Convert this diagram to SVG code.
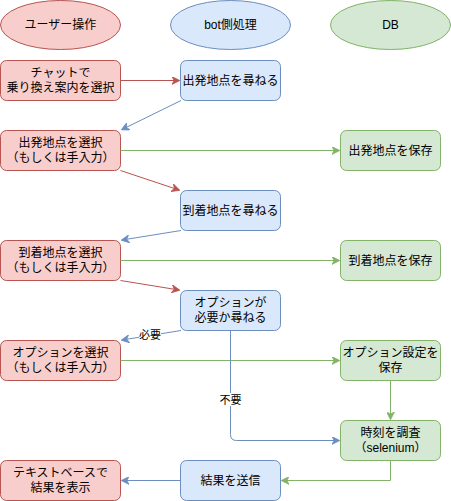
<svg xmlns="http://www.w3.org/2000/svg" width="451" height="501" viewBox="0 0 451 501">
<style>
text{font-family:"Liberation Sans","Noto Sans CJK JP",sans-serif;font-size:12px;fill:#000;text-anchor:middle}
.r{fill:#f8cecc;stroke:#b85450}
.b{fill:#dae8fc;stroke:#6c8ebf}
.g{fill:#d5e8d4;stroke:#82b366}
.lr{stroke:#b85450;fill:none}
.lb{stroke:#6c8ebf;fill:none}
.lg{stroke:#82b366;fill:none}
.lbl{font-size:11px}
</style>
<defs>
<marker id="ar" viewBox="0 0 10 10" refX="9" refY="5" markerWidth="8" markerHeight="8" markerUnits="userSpaceOnUse" orient="auto"><path d="M0,0 L10,5 L0,10 L3,5 Z" fill="#b85450" stroke="#b85450"/></marker>
<marker id="ab" viewBox="0 0 10 10" refX="9" refY="5" markerWidth="8" markerHeight="8" markerUnits="userSpaceOnUse" orient="auto"><path d="M0,0 L10,5 L0,10 L3,5 Z" fill="#6c8ebf" stroke="#6c8ebf"/></marker>
<marker id="ag" viewBox="0 0 10 10" refX="9" refY="5" markerWidth="8" markerHeight="8" markerUnits="userSpaceOnUse" orient="auto"><path d="M0,0 L10,5 L0,10 L3,5 Z" fill="#82b366" stroke="#82b366"/></marker>
</defs>
<g id="h-user"><ellipse class="r" cx="60.5" cy="25" rx="60" ry="24.5"/><text x="60.5" y="29">ユーザー操作</text></g>
<g id="h-bot"><ellipse class="b" cx="230.5" cy="25" rx="60" ry="24.5"/><text x="230.5" y="29">bot側処理</text></g>
<g id="h-db"><ellipse class="g" cx="390.5" cy="25" rx="60" ry="24.5"/><text x="390.5" y="29">DB</text></g>

<g id="u1"><rect class="r" x="0.5" y="60.5" width="120" height="40" rx="6"/><text x="60.5" y="77">チャットで</text><text x="60.5" y="92">乗り換え案内を選択</text></g>
<g id="b1"><rect class="b" x="180.5" y="60.5" width="100" height="40" rx="6"/><text x="230.5" y="85">出発地点を尋ねる</text></g>
<g id="u2"><rect class="r" x="0.5" y="130.5" width="120" height="40" rx="6"/><text x="60.5" y="147">出発地点を選択</text><text x="60.5" y="162">（もしくは手入力）</text></g>
<g id="d1"><rect class="g" x="340.5" y="130.5" width="100" height="40" rx="6"/><text x="390.5" y="155">出発地点を保存</text></g>
<g id="b2"><rect class="b" x="180.5" y="190.5" width="100" height="40" rx="6"/><text x="230.5" y="215">到着地点を尋ねる</text></g>
<g id="u3"><rect class="r" x="0.5" y="240.5" width="120" height="40" rx="6"/><text x="60.5" y="257">到着地点を選択</text><text x="60.5" y="272">（もしくは手入力）</text></g>
<g id="d2"><rect class="g" x="340.5" y="240.5" width="100" height="40" rx="6"/><text x="390.5" y="265">到着地点を保存</text></g>
<g id="b3"><rect class="b" x="180.5" y="290.5" width="100" height="40" rx="6"/><text x="230.5" y="307">オプションが</text><text x="230.5" y="322">必要か尋ねる</text></g>
<g id="u4"><rect class="r" x="0.5" y="340.5" width="120" height="40" rx="6"/><text x="60.5" y="357">オプションを選択</text><text x="60.5" y="372">（もしくは手入力）</text></g>
<g id="d3"><rect class="g" x="340.5" y="340.5" width="100" height="40" rx="6"/><text x="390.5" y="357">オプション設定を</text><text x="390.5" y="372">保存</text></g>
<g id="d4"><rect class="g" x="340.5" y="420.5" width="100" height="40" rx="6"/><text x="390.5" y="437">時刻を調査</text><text x="390.5" y="452">（selenium）</text></g>
<g id="b4"><rect class="b" x="180.5" y="460.5" width="100" height="40" rx="6"/><text x="230.5" y="485">結果を送信</text></g>
<g id="u5"><rect class="r" x="0.5" y="460.5" width="120" height="40" rx="6"/><text x="60.5" y="477">テキストベースで</text><text x="60.5" y="492">結果を表示</text></g>

<g id="connectors">
<path class="lr" d="M120.5,80.5 L179,80.5" marker-end="url(#ar)"/>
<path class="lb" d="M181,100.5 L122,129.5" marker-end="url(#ab)"/>
<path class="lg" d="M120.5,150.5 L339,150.5" marker-end="url(#ag)"/>
<path class="lr" d="M120.5,170.5 L179,190" marker-end="url(#ar)"/>
<path class="lb" d="M181,230.5 L122,240" marker-end="url(#ab)"/>
<path class="lg" d="M120.5,260.5 L339,260.5" marker-end="url(#ag)"/>
<path class="lr" d="M120.5,280.5 L179,290" marker-end="url(#ar)"/>
<path class="lb" d="M181,330.5 L122,340" marker-end="url(#ab)"/>
<path class="lg" d="M120.5,360.5 L339,360.5" marker-end="url(#ag)"/>
<path class="lb" d="M230.5,330.5 L230.5,434.5 Q230.5,440.5 236.5,440.5 L339,440.5" marker-end="url(#ab)"/>
<path class="lg" d="M390.5,380.5 L390.5,419" marker-end="url(#ag)"/>
<path class="lg" d="M390.5,460.5 L390.5,480.5 L282,480.5" marker-end="url(#ag)"/>
<path class="lb" d="M180.5,480.5 L122,480.5" marker-end="url(#ab)"/>
<rect x="139" y="328" width="22" height="13" fill="#fff"/>
<text class="lbl" x="150" y="339">必要</text>
<rect x="219" y="393" width="23" height="13" fill="#fff"/>
<text class="lbl" x="230.5" y="404">不要</text>
</g>
</svg>
